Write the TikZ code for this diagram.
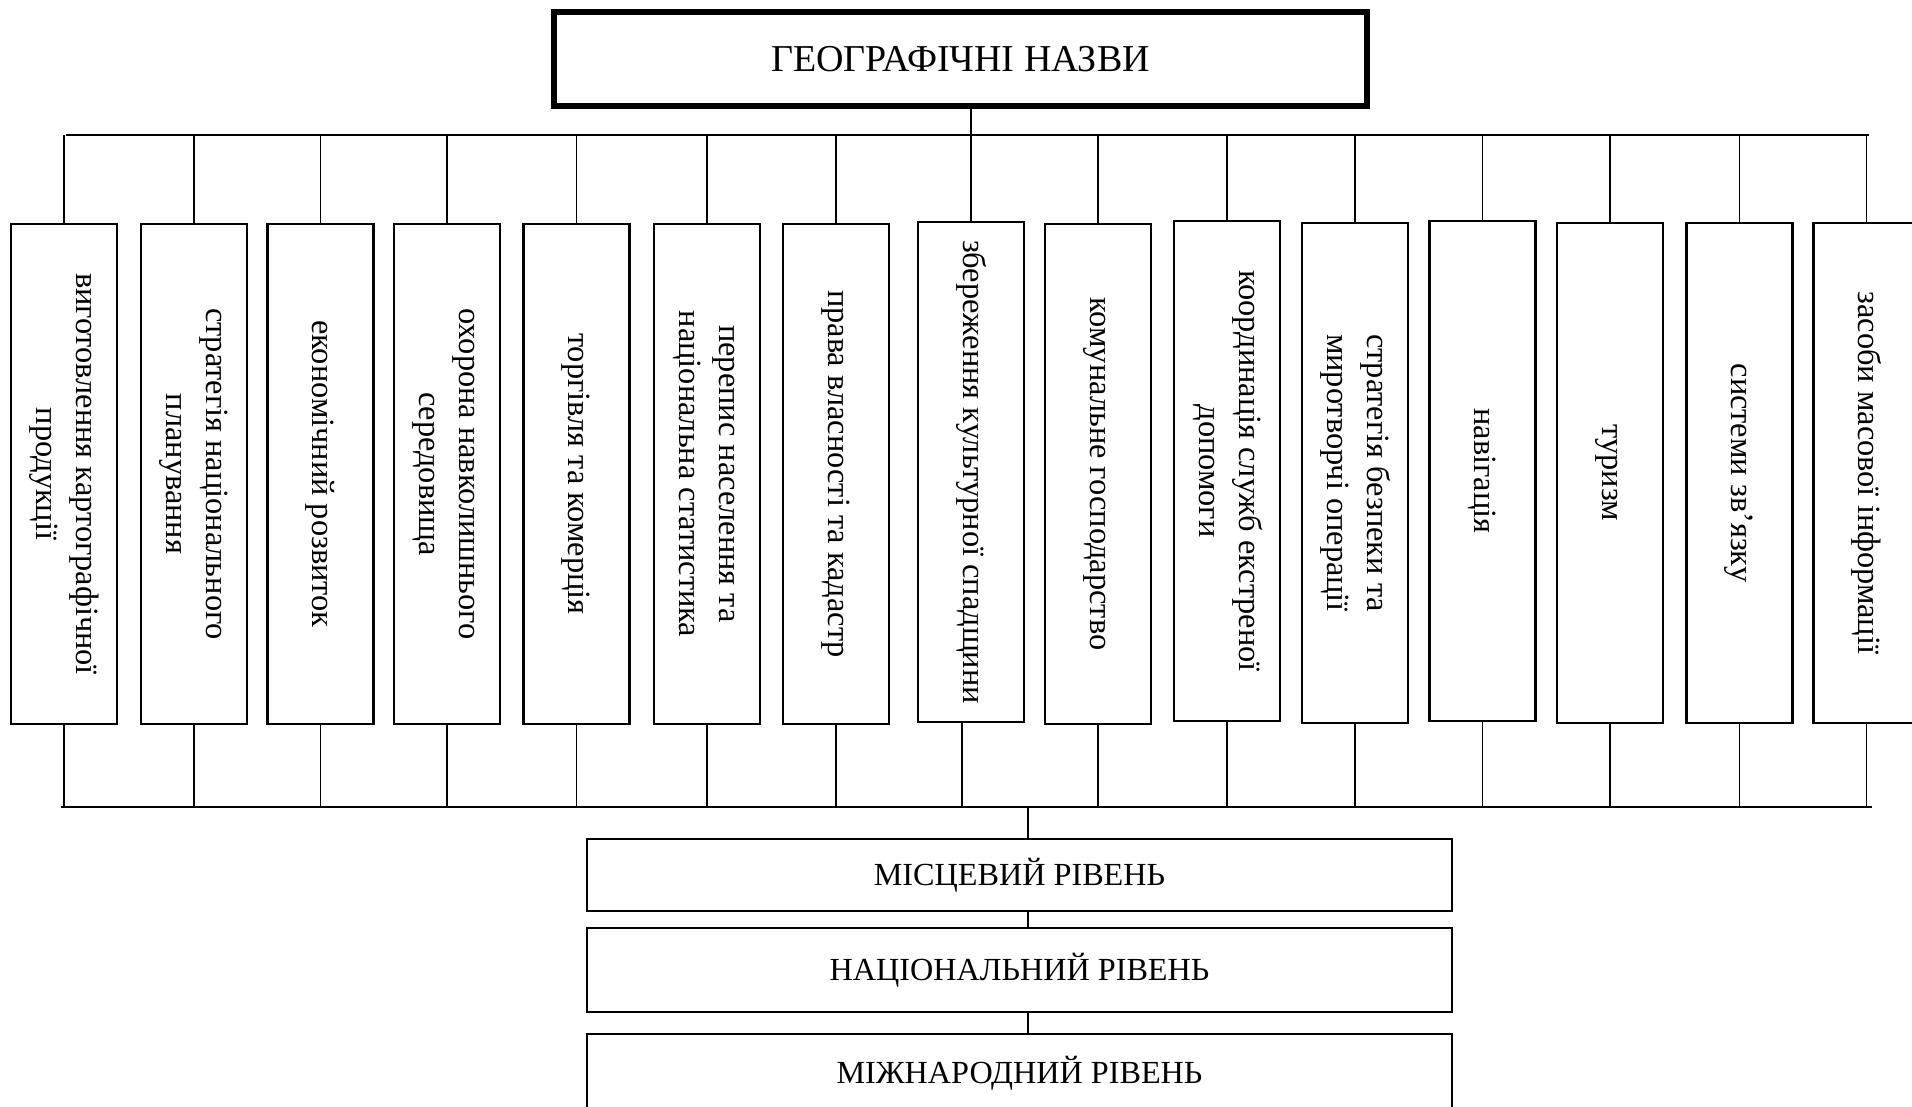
\documentclass[tikz,border=0pt]{standalone}
\usepackage{fontspec}
\setmainfont{Liberation Serif}
\usepackage{graphicx}
\tikzset{
 vbox/.style={draw, line width=2.8pt, minimum width=106pt, minimum height=500pt, inner sep=0pt},
 lvl/.style={draw, line width=2.8pt, minimum width=865pt, inner sep=0pt, font=\fontsize{32.2}{37}\selectfont},
 topbox/.style={draw, line width=5.5pt, minimum width=813pt, minimum height=94pt, inner sep=0pt, font=\fontsize{38}{43}\selectfont},
 conn/.style={line width=1.4pt},
 bus/.style={line width=2.2pt},
}
\newcommand{\vtext}[1]{\rotatebox{-90}{\fontsize{32.4}{40}\selectfont\begin{tabular}{@{}c@{}}#1\end{tabular}}}
\begin{document}
\begin{tikzpicture}[x=1pt,y=-1pt]
\path[use as bounding box, fill=white] (0,0) rectangle (1912,1107);

\node[topbox] (top) at (960.5,59) {ГЕОГРАФІЧНІ НАЗВИ};

\node[vbox] (b1) at (64,474) {\vtext{виготовлення картографічної\\продукції}};
\node[vbox] (b2) at (194,474) {\vtext{стратегія національного\\планування}};
\node[vbox] (b3) at (320.5,474) {\vtext{економічний розвиток}};
\node[vbox] (b4) at (447,474) {\vtext{охорона навколишнього\\середовища}};
\node[vbox] (b5) at (576.5,474) {\vtext{торгівля та комерція}};
\node[vbox] (b6) at (707,474) {\vtext{перепис населення та\\національна статистика}};
\node[vbox] (b7) at (836,474) {\vtext{права власності та кадастр}};
\node[vbox] (b8) at (971,472) {\vtext{збереження культурної спадщини}};
\node[vbox] (b9) at (1098,474) {\vtext{комунальне господарство}};
\node[vbox] (b10) at (1227,471) {\vtext{координація служб екстреної\\допомоги}};
\node[vbox] (b11) at (1355,473) {\vtext{стратегія безпеки та\\миротворчі операції}};
\node[vbox] (b12) at (1482.5,471) {\vtext{навігація}};
\node[vbox] (b13) at (1610,473) {\vtext{туризм}};
\node[vbox] (b14) at (1739.5,473) {\vtext{системи зв’язку}};
\node[vbox] (b15) at (1866.5,473) {\vtext{засоби масової інформації}};

\node[lvl, minimum height=72pt] (L1) at (1019.5,875) {МІСЦЕВИЙ РІВЕНЬ};
\node[lvl, minimum height=84pt] (L2) at (1019.5,970) {НАЦІОНАЛЬНИЙ РІВЕНЬ};
\node[lvl, minimum height=78pt] (L3) at (1019.5,1073) {МІЖНАРОДНИЙ РІВЕНЬ};

% top bus
\coordinate (tbL) at (66,135);
\coordinate (tbR) at (1869,135);
\draw[bus] (tbL) -- (tbR);
\draw[conn] (top.south -| b8.north) -- (b8.north);
\foreach \i in {1,2,3,4,5,6,7,9,10,11,12,13,14,15}{
  \draw[conn] (b\i.north) -- (b\i.north |- tbL);
}

% bottom bus
\coordinate (bbL) at (61,807);
\coordinate (bbR) at (1872,807);
\coordinate (bm) at (1028,807);
\draw[bus] (bbL) -- (bbR);
\foreach \i in {1,2,3,4,5,6,7,9,10,11,12,13,14,15}{
  \draw[conn] (b\i.south) -- (b\i.south |- bbL);
}
\draw[conn] ([xshift=-9pt]b8.south) -- ([xshift=-9pt]b8.south |- bbL);

\draw[conn] (bm) -- (bm |- L1.north);
\draw[conn] (L1.south -| bm) -- (L2.north -| bm);
\draw[conn] (L2.south -| bm) -- (L3.north -| bm);
\end{tikzpicture}
\end{document}
